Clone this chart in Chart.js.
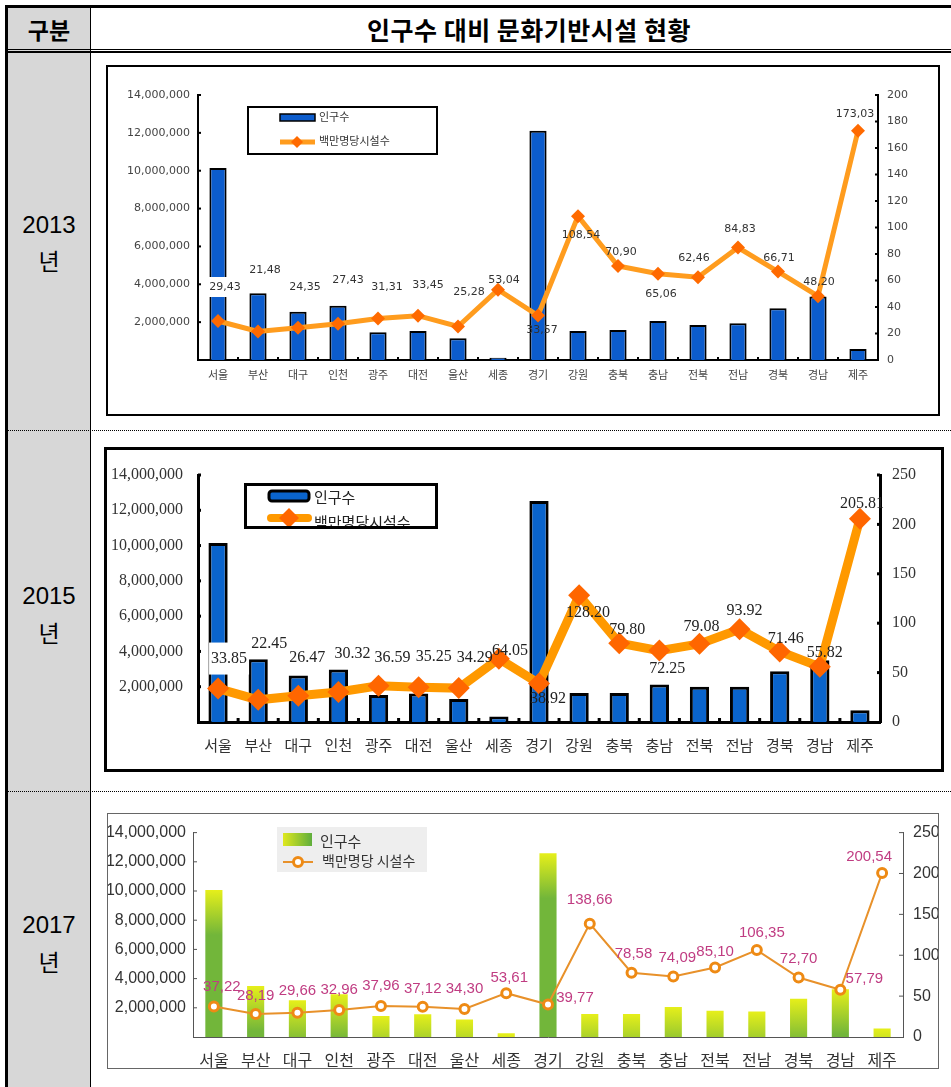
<!DOCTYPE html>
<html><head><meta charset="utf-8">
<script src="https://cdn.jsdelivr.net/npm/chart.js@4.4.0/dist/chart.umd.min.js"></script>
<style>
body{margin:0;background:#fff;}
#page{position:relative;width:951px;height:1087px;overflow:hidden;background:#fff;font-family:'Noto Sans CJK KR',sans-serif;}
.abs{position:absolute;}
.txt{position:absolute;display:flex;align-items:center;justify-content:center;white-space:nowrap;color:#000;line-height:1;}
canvas{position:absolute;}
.box{position:absolute;box-sizing:border-box;pointer-events:none;z-index:5;}
</style></head>
<body><div id="page">
<div class="abs" style="left:7px;top:7px;width:83px;height:1080px;background:#d7d7d7"></div>
<div class="abs" style="left:5px;top:5px;width:946px;height:3px;background:#000"></div>
<div class="abs" style="left:5px;top:5px;width:3px;height:1082px;background:#000"></div>
<div class="abs" style="left:90px;top:7px;width:1px;height:1080px;background:#000"></div>
<div class="abs" style="left:7px;top:49px;width:944px;height:1px;background:#000"></div>
<div class="abs" style="left:7px;top:51px;width:944px;height:2px;background:#000"></div>
<div class="abs" style="left:8px;top:430px;width:943px;height:0;border-top:1px dotted #000"></div>
<div class="abs" style="left:8px;top:791px;width:943px;height:0;border-top:1px dotted #000"></div>
<div class="txt" style="left:8px;top:9px;width:82px;height:40px;font-size:23px;font-weight:700">구분</div>
<div class="txt" style="left:91px;top:9px;width:876px;height:40px;font-size:25px;font-weight:700;letter-spacing:0.5px">인구수 대비 문화기반시설 현황</div>

<div class="txt" style="left:8px;top:211px;width:82px;height:28px;font-size:24px;font-family:'Liberation Sans',sans-serif">2013</div>
<div class="txt" style="left:8px;top:246px;width:82px;height:28px;font-size:23px">년</div>
<div class="txt" style="left:8px;top:582px;width:82px;height:28px;font-size:24px;font-family:'Liberation Sans',sans-serif">2015</div>
<div class="txt" style="left:8px;top:618px;width:82px;height:28px;font-size:23px">년</div>
<div class="txt" style="left:8px;top:911px;width:82px;height:28px;font-size:24px;font-family:'Liberation Sans',sans-serif">2017</div>
<div class="txt" style="left:8px;top:947px;width:82px;height:28px;font-size:23px">년</div>

<canvas id="c1" width="834" height="351" style="left:106px;top:65px"></canvas>
<div class="box" style="left:106px;top:65px;width:834px;height:351px;border:2px solid #000"></div>
<canvas id="c2" width="840" height="325" style="left:104px;top:447px"></canvas>
<div class="box" style="left:104px;top:447px;width:840px;height:325px;border:3px solid #000"></div>
<canvas id="c3" width="832" height="256" style="left:107px;top:813px"></canvas>
<div class="box" style="left:107px;top:813px;width:832px;height:256px;border:1px solid #666"></div>
</div>
<script>
// ---------- DATA ----------
const categories = ['서울','부산','대구','인천','광주','대전','울산','세종','경기','강원','충북','충남','전북','전남','경북','경남','제주'];

const pop2013  = [10140000,3520000,2550000,2870000,1470000,1530000,1150000,120000,12110000,1530000,1580000,2060000,1850000,1940000,2730000,3350000,580000];
const rate2013 = [29.43,21.48,24.35,27.43,31.31,33.45,25.28,53.04,33.57,108.54,70.90,65.06,62.46,84.83,66.71,48.20,173.03];

const pop2015  = [10150000,3550000,2640000,2980000,1530000,1620000,1300000,310000,12530000,1640000,1640000,2120000,2000000,2000000,2880000,3500000,670000];
const rate2015 = [33.85,22.45,26.47,30.32,36.59,35.25,34.29,64.05,38.92,128.20,79.80,72.25,79.08,93.92,71.46,55.82,205.81];

const pop2017  = [10070000,3490000,2510000,2920000,1440000,1550000,1200000,260000,12580000,1570000,1570000,2050000,1790000,1740000,2620000,3270000,590000];
const rate2017 = [37.22,28.19,29.66,32.96,37.96,37.12,34.30,53.61,39.77,138.66,78.58,74.09,85.10,106.35,72.70,57.79,200.54];

const popTicks      = [2000000,4000000,6000000,8000000,10000000,12000000,14000000];
const rateTicks2013 = [0,20,40,60,80,100,120,140,160,180,200];
const rateTicks2015 = [0,50,100,150,200,250];
const rateTicks2017 = [0,50,100,150,200,250];

const seriesPop  = '인구수';
const seriesRate2013 = '백만명당시설수';
const seriesRate2015 = '백만명당시설수';
const seriesRate2017 = '백만명당 시설수';

// label placement offsets (px) relative to each point
const dx2013 = [7,7,7,10,9,10,11,6,4,3,3,3,-4,2,1,1,-3];
const dy2013 = [-34,-61,-41,-44,-31,-31,-34,-10,15,19,-14,20,-19,-18,-13,-14,-17];
const dx2015 = [11,11,9,14,14,15,16,11,9,9,8,8,2,5,6,5,2];
const dy2015 = [-30,-56,-38,-38,-28,-30,-30,-8,15,17,-13,18,-17,-18,-13,-14,-15];
const dx2017 = [8,0,0,0,0,0,0,3,27,0,2,4,0,5,0,24,-13];
const dy2017 = [-20,-18,-22,-20,-20,-18,-20,-15,-7,-24,-19,-19,-16,-17,-19,-11,-16];

// ---------- HELPERS ----------
const fmtInt = v => Number(v).toLocaleString('en-US');
const fmtComma = v => v.toFixed(2).replace('.', ',');
const fmtDot = v => v.toFixed(2);

function diamond(ctx, x, y, r, color){
  ctx.beginPath(); ctx.moveTo(x, y-r); ctx.lineTo(x+r, y); ctx.lineTo(x, y+r); ctx.lineTo(x-r, y); ctx.closePath();
  ctx.fillStyle = color; ctx.fill();
}

function decorPlugin(cfg){
  return {
    id: 'decor',
    afterDatasetsDraw(chart){
      const ctx = chart.ctx;
      const ys = chart.scales.y, yr = chart.scales.y1, xs = chart.scales.x;
      ctx.save();
      ctx.fillStyle = cfg.tickColor;
      const w = cfg.tickWidth;
      cfg.leftTicks.forEach(v => { const p = ys.getPixelForValue(v); ctx.fillRect(ys.right, p - w/2, cfg.tickLen, w); });
      cfg.rightTicks.forEach(v => { if (v===0) return; const p = yr.getPixelForValue(v); ctx.fillRect(yr.left - cfg.tickLen, p - w/2, cfg.tickLen, w); });
      if (cfg.xTickLen){
        const n = categories.length, cw = xs.width / n;
        for (let i = 1; i < n; i++){ const bx = xs.left + i*cw; ctx.fillRect(bx - w/2, xs.top - cfg.xTickLen, w, cfg.xTickLen); }
      }
      const meta = chart.getDatasetMeta(0);
      ctx.font = cfg.labelFont; ctx.textAlign = 'center'; ctx.textBaseline = 'middle';
      meta.data.forEach((pt, i) => {
        const x = pt.x + cfg.dx[i], y = pt.y + cfg.dy[i];
        const t = cfg.fmt(cfg.values[i]);
        if (cfg.bg && cfg.bg.index === i){
          const tw = ctx.measureText(t).width;
          ctx.fillStyle = '#fff';
          ctx.fillRect(x - tw/2 - 2, y - cfg.bg.halfH, tw + 4, cfg.bg.halfH*2);
        }
        ctx.fillStyle = cfg.labelColor;
        ctx.fillText(t, x, y);
      });
      ctx.restore();
    },
    afterDraw(chart){ const ctx = chart.ctx; ctx.save(); cfg.legend(ctx); ctx.restore(); }
  };
}

function makeChart(id, o){
  return new Chart(document.getElementById(id), {
    type: 'bar',
    data: {
      labels: categories,
      datasets: [
        Object.assign({type:'line', label:o.rateLabel, data:o.rate, yAxisID:'y1', order:1, tension:0, fill:false}, o.lineStyle),
        Object.assign({type:'bar', label:seriesPop, data:o.pop, yAxisID:'y', order:2, categoryPercentage:1}, o.barStyle)
      ]
    },
    options: {
      responsive:false, animation:false, events:[],
      layout:{padding:{top:o.top, left:0, right:0, bottom:0}},
      plugins:{legend:{display:false}, tooltip:{enabled:false}},
      scales:{
        x:{grid:{display:false, drawTicks:false}, border:{display:true, color:o.axisColor, width:o.axisWidth},
           ticks:{font:o.catFont, color:o.tickColor, padding:o.xPad, autoSkip:false, maxRotation:0},
           afterFit:s=>{s.height=o.xH;}},
        y:{position:'left', min:0, max:14000000, grid:{display:false, drawTicks:false},
           border:{display:true, color:o.axisColor, width:o.axisWidth},
           ticks:{font:o.tickFont, color:o.tickColor, padding:o.lPad, callback:v=>fmtInt(v)},
           afterBuildTicks:s=>{s.ticks = popTicks.map(v=>({value:v}));},
           afterFit:s=>{s.width=o.lW;}},
        y1:{position:'right', min:0, max:o.rateTicks[o.rateTicks.length-1], grid:{display:false, drawTicks:false},
           border:{display:true, color:o.axisColor, width:o.axisWidth},
           ticks:{font:o.tickFont, color:o.tickColor, padding:o.rPad, callback:v=>String(v)},
           afterBuildTicks:s=>{s.ticks = o.rateTicks.map(v=>({value:v}));},
           afterFit:s=>{s.width=o.rW;}}
      }
    },
    plugins:[decorPlugin(o.decor)]
  });
}

// ---------- CHART 2013 ----------
const f1 = "'DejaVu Sans','Noto Sans CJK KR',sans-serif";
makeChart('c1', {
  pop:pop2013, rate:rate2013, rateLabel:seriesRate2013, rateTicks:rateTicks2013,
  top:30, xH:56, lW:92, rW:62, lPad:8, rPad:9, xPad:10,
  axisColor:'#000', axisWidth:2, tickColor:'#444',
  tickFont:{family:f1, size:11}, catFont:{family:f1, size:11},
  lineStyle:{borderColor:'#ff9c1e', borderWidth:5, pointStyle:'rectRot', pointRadius:7, pointBackgroundColor:'#ff6a00', pointBorderWidth:0},
  barStyle:{backgroundColor:'#0c5ccc', borderColor:'#000', borderWidth:2, barPercentage:0.43},
  decor:{values:rate2013, dx:dx2013, dy:dy2013, fmt:fmtComma, labelFont:"11px "+f1, labelColor:'#333',
    bg:{index:0, halfH:10}, leftTicks:popTicks, rightTicks:rateTicks2013, tickColor:'#000', tickWidth:2, tickLen:3, xTickLen:3,
    legend(ctx){
      ctx.lineWidth=2; ctx.strokeStyle='#000'; ctx.strokeRect(142,42,189,47);
      ctx.fillStyle='#0c5ccc'; ctx.fillRect(174,49,35,7); ctx.lineWidth=1.5; ctx.strokeRect(174,49,35,7);
      ctx.font="11px "+f1; ctx.fillStyle='#333'; ctx.textAlign='left'; ctx.textBaseline='middle';
      ctx.fillText(seriesPop, 213, 53);
      ctx.strokeStyle='#ff9c1e'; ctx.lineWidth=5; ctx.beginPath(); ctx.moveTo(174,77); ctx.lineTo(209,77); ctx.stroke();
      diamond(ctx, 191, 77, 6, '#ff6a00');
      ctx.fillStyle='#333'; ctx.fillText(seriesRate2013, 213, 77);
    }}
});

// ---------- CHART 2015 ----------
const f2 = "'Liberation Serif','Noto Sans CJK KR',serif";
const f2k = "'Noto Sans CJK KR',sans-serif";
makeChart('c2', {
  pop:pop2015, rate:rate2015, rateLabel:seriesRate2015, rateTicks:rateTicks2015,
  top:28, xH:50, lW:94, rW:64, lPad:15, rPad:12, xPad:14,
  axisColor:'#000', axisWidth:3, tickColor:'#333',
  tickFont:{family:f2, size:16}, catFont:{family:f2k, size:15},
  lineStyle:{borderColor:'#ff9900', borderWidth:9, pointStyle:'rectRot', pointRadius:11, pointBackgroundColor:'#ff6600', pointBorderWidth:0},
  barStyle:{backgroundColor:'#0a64cc', borderColor:'#000', borderWidth:3, barPercentage:0.48},
  decor:{values:rate2015, dx:dx2015, dy:dy2015, fmt:fmtDot, labelFont:"16px "+f2, labelColor:'#222',
    bg:{index:0, halfH:16}, leftTicks:popTicks, rightTicks:rateTicks2015, tickColor:'#000', tickWidth:3, tickLen:3, xTickLen:4,
    legend(ctx){
      ctx.fillStyle='#0a64cc'; ctx.strokeStyle='#000'; ctx.lineWidth=3;
      ctx.beginPath(); ctx.roundRect(165,44,40,10,3); ctx.fill(); ctx.stroke();
      ctx.font="15px "+f2k; ctx.fillStyle='#222'; ctx.textAlign='left'; ctx.textBaseline='middle';
      ctx.fillText(seriesPop, 210, 50);
      ctx.strokeStyle='#ff9900'; ctx.lineWidth=8; ctx.lineCap='round'; ctx.beginPath(); ctx.moveTo(167,71); ctx.lineTo(204,71); ctx.stroke();
      diamond(ctx, 185, 71, 10, '#ff6600');
      ctx.save(); ctx.beginPath(); ctx.rect(140,36,194,44); ctx.clip();
      ctx.fillStyle='#222'; ctx.fillText(seriesRate2015, 210, 75); ctx.restore();
      ctx.lineWidth=3; ctx.strokeStyle='#000'; ctx.strokeRect(141.5,37.5,191,43);
    }}
});

// ---------- CHART 2017 ----------
const f3 = "'Liberation Sans','Noto Sans CJK KR',sans-serif";
function greenBar(c){
  const ch = c.chart;
  if (!ch.chartArea || !ch.scales.y) return '#9c3';
  const top = ch.scales.y.getPixelForValue(c.raw);
  const g = ch.ctx.createLinearGradient(0, top, 0, top + 45);
  g.addColorStop(0, '#e6ef1a'); g.addColorStop(1, '#72b63a');
  return g;
}
makeChart('c3', {
  pop:pop2017, rate:rate2017, rateLabel:seriesRate2017, rateTicks:rateTicks2017,
  top:10, xH:32, lW:86, rW:36, lPad:7, rPad:10, xPad:13,
  axisColor:'#555', axisWidth:1, tickColor:'#333',
  tickFont:{family:f3, size:16}, catFont:{family:"'Noto Sans CJK KR',sans-serif", size:16},
  lineStyle:{borderColor:'#e8912a', borderWidth:2, pointStyle:'circle', pointRadius:4.5, pointBackgroundColor:'#fff', pointBorderColor:'#ee8a14', pointBorderWidth:3},
  barStyle:{backgroundColor:greenBar, borderWidth:0, barPercentage:0.41},
  decor:{values:rate2017, dx:dx2017, dy:dy2017, fmt:fmtComma, labelFont:"15px "+f3, labelColor:'#c03c82',
    bg:null, leftTicks:popTicks, rightTicks:rateTicks2017, tickColor:'#555', tickWidth:1, tickLen:4, xTickLen:0,
    legend(ctx){
      ctx.fillStyle='#eeeeee'; ctx.fillRect(170,14,150,45);
      const g = ctx.createLinearGradient(176,0,205,0); g.addColorStop(0,'#dfe81e'); g.addColorStop(1,'#5fae3c');
      ctx.fillStyle=g; ctx.fillRect(176,20,29,13);
      ctx.font="15px 'Noto Sans CJK KR',sans-serif"; ctx.fillStyle='#333'; ctx.textAlign='left'; ctx.textBaseline='middle';
      ctx.fillText(seriesPop, 213, 28);
      ctx.strokeStyle='#e8912a'; ctx.lineWidth=2; ctx.beginPath(); ctx.moveTo(176,49); ctx.lineTo(206,49); ctx.stroke();
      ctx.beginPath(); ctx.arc(191,49,4.5,0,Math.PI*2); ctx.fillStyle='#fff'; ctx.fill(); ctx.lineWidth=3; ctx.strokeStyle='#ee8a14'; ctx.stroke();
      ctx.font="14px 'Noto Sans CJK KR',sans-serif"; ctx.fillStyle='#333'; ctx.fillText(seriesRate2017, 215, 48);
    }}
});
</script>
</body></html>
